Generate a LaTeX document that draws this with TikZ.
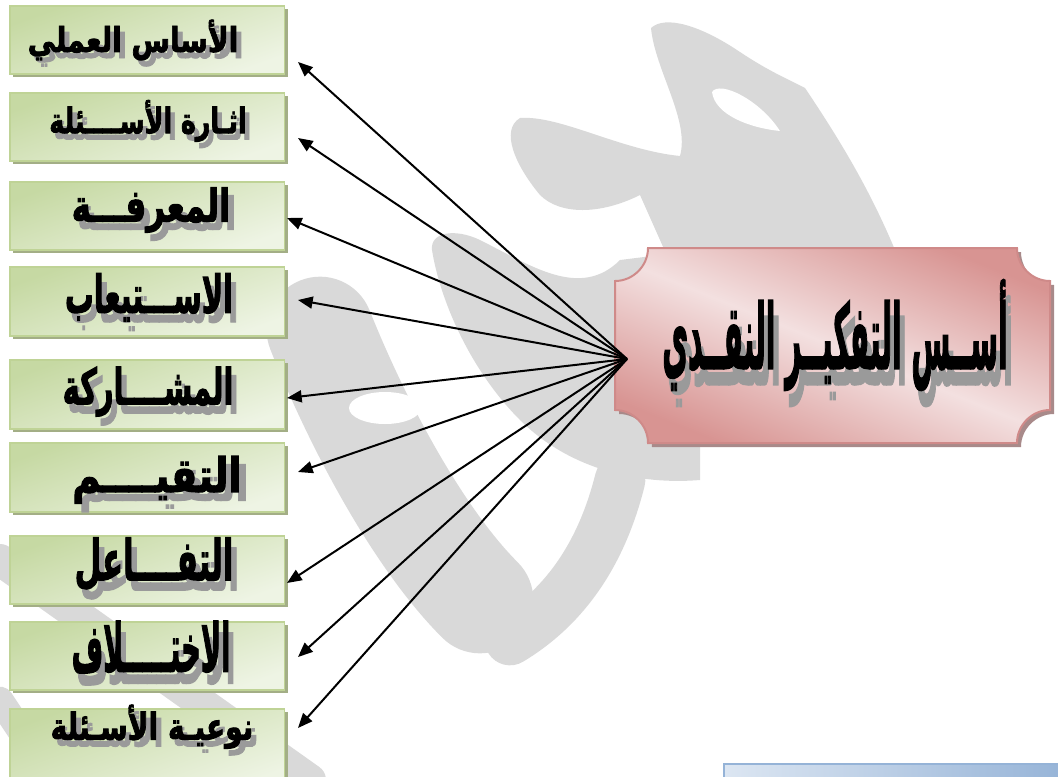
\documentclass[tikz,border=0pt]{standalone}
\usepackage{fontspec}
\usepackage{graphicx}
\usetikzlibrary{arrows.meta,shadows}
\TeXXeTstate=1
\newfontfamily\arabicfont[Script=Arabic,BoldFeatures={FakeBold=2.5}]{DejaVu Sans}
\definecolor{wmgray}{HTML}{D9D9D9}
\definecolor{greendark}{HTML}{C6D9A3}
\definecolor{greenlight}{HTML}{EEF4E4}
\definecolor{greenedge}{HTML}{BFD396}
\definecolor{greenshadow}{HTML}{A3AE86}
\definecolor{pinkdark}{HTML}{D89492}
\definecolor{pinklight}{HTML}{F3E0E0}
\definecolor{pinkedge}{HTML}{CF8A89}
\definecolor{pinkshadow}{HTML}{A88A8A}
\definecolor{bluelight}{HTML}{DCE6F2}
\definecolor{bluedark}{HTML}{95B3D7}
\definecolor{txtshadow}{HTML}{9A9A9A}
\newcommand{\shd}[1]{\makebox[0pt][l]{\hspace{1.8pt}\raisebox{-1.8pt}{\color{txtshadow}#1}}#1}
\newcommand{\artxt}[3]{\resizebox*{#1}{#2}{\arabicfont\bfseries\shd{#3}}}
\tikzset{
  wm/.style={fill=wmgray,draw=none},
  wmline/.style={draw=wmgray,line cap=round},
  gbox/.style={draw=greenedge,line width=1.2pt,top color=greendark,bottom color=greenlight,
    shading angle=20,minimum width=206pt,minimum height=51pt,inner sep=0pt,
    drop shadow={shadow xshift=2.4pt,shadow yshift=-2.4pt,fill=greenshadow,opacity=1}},
  lbl/.style={inner sep=0pt},
  arr/.style={line width=1.5pt,-{Triangle[length=11pt,width=9pt]}},
}
\begin{document}
\begin{tikzpicture}[x=0.75pt,y=-0.75pt]
\useasboundingbox (0,0) rectangle (1058,776);
\begin{scope}
\clip (0,0) rectangle (1058,776);
% ---- watermark (approximate) ----
\fill[wm] (651,28) .. controls (665,15) and (700,25) .. (740,52)
  .. controls (770,72) and (790,80) .. (805,88)
  .. controls (840,140) and (870,190) .. (895,250) -- (895,330) -- (700,330) -- (640,195)
  .. controls (600,215) and (560,215) .. (540,195)
  .. controls (515,165) and (500,130) .. (520,118)
  .. controls (560,115) and (620,150) .. (680,156)
  .. controls (690,120) and (655,70) .. (651,28) -- cycle;
\fill[white] (712,92) .. controls (720,80) and (760,100) .. (780,131) .. controls (750,128) and (715,115) .. (712,92) -- cycle;
\fill[wm] (432,250) .. controls (430,232) and (455,228) .. (480,240)
  .. controls (530,265) and (580,300) .. (620,260) -- (700,250) -- (700,480)
  .. controls (640,485) and (570,470) .. (520,420)
  .. controls (470,370) and (440,300) .. (432,250) -- cycle;
\draw[wmline,line width=80pt] (320,330) .. controls (360,430) and (420,540) .. (480,600);
\fill[white] (385,408) ellipse [x radius=36, y radius=16];
\draw[wmline,line width=38pt] (620,480) .. controls (600,560) and (560,610) .. (510,640);
\draw[wmline,line width=24pt] (0,560) -- (310,780);
\draw[wmline,line width=20pt] (0,700) -- (60,790);
% ---- blue bar ----
\path[draw=bluedark,line width=1.5pt,left color=bluelight,right color=bluedark] (724,764) rectangle (1070,790);
\end{scope}
% ---- left boxes ----
\node[gbox,anchor=north west] (b1) at (9,5) {};
\node[gbox,anchor=north west,minimum height=51pt] (b2) at (9,92) {};
\node[gbox,anchor=north west,minimum height=51pt] (b3) at (9,181) {};
\node[gbox,anchor=north west,minimum height=52pt] (b4) at (9,266) {};
\node[gbox,anchor=north west,minimum height=52pt] (b5) at (9,359) {};
\node[gbox,anchor=north west,minimum height=52pt] (b6) at (9,442) {};
\node[gbox,anchor=north west,minimum height=51pt] (b7) at (9,535) {};
\node[gbox,anchor=north west,minimum height=51pt] (b8) at (9,621) {};
\node[gbox,anchor=north west,minimum height=60pt] (b9) at (9,708) {};
% labels
\node[lbl] (l1) at (133,43) {\artxt{158pt}{35pt}{\beginR الأساس العملي\endR}};
\node[lbl] (l2) at (148,124) {\artxt{148pt}{36pt}{\beginR اثـارة الأســــئلة\endR}};
\node[lbl] (l3) at (151,214) {\artxt{119pt}{40pt}{\beginR المعرفـــة\endR}};
\node[lbl] (l4) at (149,302) {\artxt{126pt}{43pt}{\beginR الاســـتيعاب\endR}};
\node[lbl] (l5) at (148,396) {\artxt{128pt}{44pt}{\beginR المشــــاركة\endR}};
\node[lbl] (l6) at (157,484) {\artxt{127pt}{42pt}{\beginR التقيــــم\endR}};
\node[lbl] (l7) at (154,569) {\artxt{119pt}{47pt}{\beginR التفــــاعل\endR}};
\node[lbl] (l8) at (151,653) {\artxt{119pt}{48pt}{\beginR الاختـــــلاف\endR}};
\node[lbl] (l9) at (152,730) {\artxt{152pt}{38pt}{\beginR نوعيـة الأسـئلة\endR}};
% ---- main plaque ----
\def\pl{(648,248) -- (1017,248) .. controls (1017,266) and (1032,281) .. (1050,281)
  -- (1050,410) .. controls (1032,410) and (1017,425) .. (1017,443)
  -- (648,443) .. controls (648,425) and (633,410) .. (615,410)
  -- (615,281) .. controls (633,281) and (648,266) .. (648,248) -- cycle}
\fill[pinkshadow,shift={(4,4)}] \pl;
\path[top color=pinkdark,bottom color=pinkdark,middle color=pinklight,shading angle=-22] \pl;
\draw[pinkedge,line width=1.5pt] \pl;
\node[lbl] (main) at (835,343) {\artxt{259pt}{95pt}{\beginR أســس التفكيــر النقــدي\endR}};
% ---- connectors ----
\coordinate (hub) at (627,359);
\coordinate (t1) at (298,62);
\coordinate (t2) at (298,138);
\coordinate (t3) at (287,218);
\coordinate (t4) at (298,300);
\coordinate (t5) at (287,398);
\coordinate (t6) at (298,472);
\coordinate (t7) at (287,583);
\coordinate (t8) at (298,657);
\coordinate (t9) at (298,728);
\foreach \i in {1,...,9} \draw[arr] (hub) -- (t\i);
\end{tikzpicture}
\end{document}
